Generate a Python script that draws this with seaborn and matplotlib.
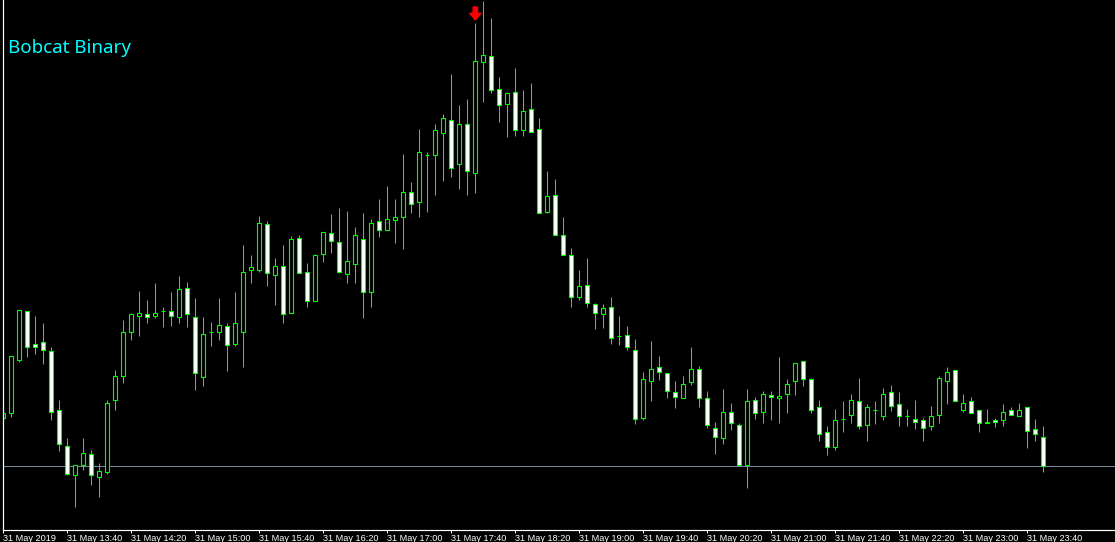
import numpy as np
import pandas as pd
import matplotlib
matplotlib.use("Agg")
import matplotlib.pyplot as plt
import seaborn as sns

# ---- data (M5 bars, price in chart points) ----
open_ = [111.7,116.7,170.3,218.7,185.7,187.7,178.7,119.7,83.7,54.7,64.7,75.7,53.3,58.3,129.7,153.7,197.7,213.7,215.7,213.7,
         218.7,218.7,212.7,241.7,212.7,153.3,197.7,197.7,203.7,185.7,197.7,259.7,259.7,305.7,254.7,263.7,216.7,291.7,257.7,228.7,
         275.7,296.7,287.7,256.3,266.3,290.7,238.3,308.7,299.7,309.7,312.7,337.7,327.7,375.3,375.3,396.7,409.7,365.7,405.7,356.7,
         467.7,473.7,440.7,425.7,437.7,399.7,420.7,400.7,318.3,334.7,294.7,274.7,232.7,244.7,225.7,215.7,222.7,193.7,194.7,179.7,
         111.7,148.7,162.7,156.7,137.7,131.7,147.7,160.7,131.7,101.7,91.7,117.7,104.7,64.7,129.7,117.7,134.7,131.7,135.7,148.7,
         168.7,150.7,122.7,97.7,82.7,111.0,114.7,128.7,104.7,119.7,113.7,137.7,125.7,114.3,111.3,109.7,103.7,114.7,148.7,159.7,
         119.7,128.7,119.7,108.3,109.7,109.7,119.7,113.7,122.7,100.7,92.7]
high = [149.3,173.7,219.7,219.0,214.0,207.0,182.7,130.0,92.0,64.7,92.0,80.0,66.7,130.0,160.0,209.7,217.3,239.0,230.0,247.0,
        223.0,238.0,254.0,248.0,231.7,213.0,208.0,232.0,206.7,238.0,285.0,275.0,314.0,308.7,271.7,284.7,294.0,294.7,266.7,276.0,
        297.7,316.0,322.0,319.0,302.7,316.7,310.7,330.7,344.0,330.7,376.0,348.0,400.7,378.0,406.0,415.7,456.0,424.7,431.0,507.0,
        529.5,511.7,452.7,437.7,461.7,440.0,446.7,411.7,359.0,351.0,312.7,281.7,260.0,271.7,226.7,225.7,232.7,213.7,203.7,191.0,
        158.0,189.0,174.0,156.7,149.0,153.7,183.0,164.0,138.7,108.0,141.0,127.0,106.7,141.0,132.7,138.7,138.7,172.7,150.7,166.7,
        168.7,151.7,130.0,103.7,120.7,129.0,135.7,151.7,125.7,129.0,141.7,144.7,137.7,120.7,129.7,111.7,123.7,153.7,162.7,159.7,
        135.7,132.7,119.7,120.7,111.7,125.7,122.7,126.7,122.7,110.7,103.7]
low = [86.7,113.3,168.3,173.3,176.0,166.3,110.3,79.3,54.7,23.3,60.0,45.0,33.3,55.7,120.0,147.0,190.0,194.3,207.3,212.3,
       203.3,204.3,207.3,203.3,140.0,144.3,184.3,190.0,159.3,184.3,163.3,246.7,257.7,244.3,225.3,207.3,216.7,256.7,223.3,228.7,
       268.3,277.3,256.7,247.3,247.3,212.3,223.3,293.3,299.7,287.3,280.7,316.7,313.3,318.3,335.3,349.3,353.3,341.3,335.3,337.3,
       428.3,436.7,408.3,393.3,394.3,394.3,397.7,316.7,316.7,294.7,274.7,223.3,229.7,222.7,200.7,201.7,185.7,185.3,180.0,106.3,
       110.0,129.3,150.0,131.7,122.3,131.7,144.7,123.3,101.7,76.3,86.3,100.3,64.7,42.3,111.3,107.3,110.3,107.3,117.3,135.3,
       144.3,116.7,89.3,75.3,79.7,98.3,107.3,100.7,89.3,106.3,110.3,119.3,104.3,104.3,100.7,89.3,100.3,107.3,126.3,128.7,
       117.7,116.7,98.3,106.7,103.3,104.3,114.7,113.7,82.3,89.3,58.3]
close = [116.7,173.7,219.7,182.7,182.7,179.7,117.7,85.7,55.7,64.7,76.7,54.7,59.0,126.7,153.7,197.7,215.7,216.7,212.7,216.7,
         218.7,213.7,240.7,215.7,156.7,195.7,197.7,204.7,184.7,206.7,257.7,262.7,306.7,256.7,263.7,215.7,290.7,256.7,228.7,274.7,
         297.7,288.7,257.7,268.7,294.7,238.3,306.7,299.7,310.7,312.7,337.7,325.7,377.7,375.3,399.7,411.7,361.7,405.7,358.7,468.7,
         474.7,439.7,424.7,436.7,399.7,418.7,397.7,316.7,333.7,294.7,274.7,232.7,243.7,226.7,216.7,221.7,191.7,193.7,182.7,110.7,
         150.7,160.7,157.7,138.7,132.7,145.7,160.7,131.7,104.7,92.7,117.7,106.7,64.7,128.7,116.7,135.7,132.7,134.3,145.7,166.7,
         150.7,119.7,95.7,82.7,109.7,111.0,129.7,103.7,122.7,119.7,135.7,123.7,113.7,114.3,107.7,101.7,113.7,151.7,157.7,128.7,
         126.7,116.7,106.7,106.7,107.7,117.7,114.7,119.7,98.7,95.7,63.7]
tick_labels = ["31 May 2019", "31 May 13:40", "31 May 14:20", "31 May 15:00", "31 May 15:40",
               "31 May 16:20", "31 May 17:00", "31 May 17:40", "31 May 18:20", "31 May 19:00",
               "31 May 19:40", "31 May 20:20", "31 May 21:00", "31 May 21:40", "31 May 22:20",
               "31 May 23:00", "31 May 23:40"]
bars_per_label = 8
signal_down = [59]
title = "Bobcat Binary"

# ---- build frame ----
n = len(close)
df = pd.DataFrame({"idx": np.arange(n), "open": open_, "high": high, "low": low, "close": close})
df["bottom"] = np.minimum(df["open"], df["close"])
df["body"] = (df["close"] - df["open"]).abs()
df["bull"] = df["close"] >= df["open"]

sns.set_theme(style="dark", rc={"axes.facecolor": "black", "figure.facecolor": "black",
                                "savefig.facecolor": "black", "axes.edgecolor": "white"})
plt.rcParams["font.family"] = ["Liberation Sans", "DejaVu Sans"]

W, H = 1115, 542
fig = plt.figure(figsize=(W / 100, H / 100), dpi=100)
ax = fig.add_axes([3 / W, 12 / H, (W - 3) / W, 530 / H])

GREEN = "#00ff00"
px = 72 / 100  # one pixel in points

ax.vlines(df["idx"], df["low"], df["high"], color=GREEN, lw=px, zorder=1)

for is_bull, face in [(True, "black"), (False, "white")]:
    sub = df[df["bull"] == is_bull].sort_values("idx")
    sns.barplot(data=sub, x="idx", y="body", native_scale=True, width=0.5,
                color=face, saturation=1, errorbar=None, ax=ax,
                bottom=sub["bottom"].values, edgecolor=GREEN, linewidth=px * 1.1,
                zorder=2)

ax.axhline(df["close"].iloc[-1], color="#778899", lw=px, zorder=0.5)

for s in signal_down:
    hi = df["high"].iloc[s]
    ax.annotate("", xy=(s, hi + 3), xytext=(s, hi + 16),
                arrowprops=dict(arrowstyle="simple,head_length=0.6,head_width=1.0,tail_width=0.4",
                                color="#ff0000", mutation_scale=8, shrinkA=0, shrinkB=0), zorder=5)

ax.set_xlim(-0.04, -0.04 + (W - 3) / 8)
ax.set_ylim(0, 530)
ax.set_yticks([])
ticks = np.arange(0, n, bars_per_label)[:len(tick_labels)]
ax.set_xticks(ticks)
ax.set_xticklabels(tick_labels, ha="left", fontsize=6.6, color="white")
ax.tick_params(axis="x", colors="white", length=3 * px, width=px, pad=1.0, direction="out", bottom=True)
ax.set_xlabel("")
ax.set_ylabel("")
for side in ["top", "right"]:
    ax.spines[side].set_visible(False)
for side in ["left", "bottom"]:
    ax.spines[side].set_visible(True)
    ax.spines[side].set_color("white")
    ax.spines[side].set_linewidth(px * 1.2)
ax.grid(False)

fig.text(8 / W, 1 - 53 / H, title, color="#00ffff", fontsize=13.5,
         family=["Noto Sans", "DejaVu Sans"], va="baseline", ha="left")

fig.savefig("out.png", dpi=100, facecolor="black")
